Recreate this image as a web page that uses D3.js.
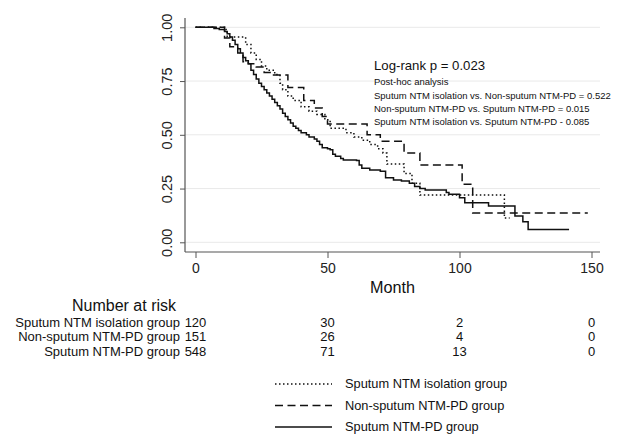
<!DOCTYPE html>
<html>
<head>
<meta charset="utf-8">
<script src="https://cdn.jsdelivr.net/npm/d3@7"></script>
<style>
    body { margin: 0; background: #fff; }
    svg { font-family: "Liberation Sans", Arial, sans-serif; }
</style>
</head>
<body>
<div class="container"></div>
<script>
// DATA
// step curves: time in months, survival after each step
const isoTime = [0, 11, 12, 19, 21, 23, 25, 27, 30, 32, 33, 35, 37, 40, 43, 46, 49, 51, 57, 60, 63, 66, 69, 71, 72.5, 79, 82, 85, 117, 119];
const isoSurv = [1, 0.99, 0.955, 0.92, 0.88, 0.85, 0.82, 0.80, 0.78, 0.74, 0.71, 0.68, 0.66, 0.63, 0.61, 0.595, 0.57, 0.53, 0.51, 0.49, 0.475, 0.455, 0.435, 0.415, 0.364, 0.32, 0.275, 0.22, 0.113, 0.113];

const nonTime = [0, 11, 13, 16, 18, 20, 23, 26, 29, 35, 41, 45, 48, 50, 65, 70, 79, 85, 101, 105, 148.6];
const nonSurv = [1, 0.95, 0.91, 0.88, 0.84, 0.83, 0.815, 0.79, 0.778, 0.72, 0.66, 0.625, 0.585, 0.55, 0.50, 0.47, 0.415, 0.36, 0.27, 0.136, 0.136];

const pdTime = [0, 7, 9, 11, 12, 13, 14, 15, 16, 17, 18, 19, 20, 21, 22, 23, 24, 25, 26, 27, 28, 29, 30, 31, 32, 33, 34, 35, 36, 37, 38, 39, 40, 42, 43, 45, 46, 47, 48, 50, 51, 52, 53, 55, 56, 61, 62, 63, 66, 70, 72, 75, 78, 81, 83, 85, 87, 95, 96, 100, 102, 111, 121, 124, 126, 141.5];
const pdSurv = [1, 0.995, 0.99, 0.98, 0.97, 0.955, 0.94, 0.92, 0.90, 0.88, 0.86, 0.845, 0.83, 0.80, 0.78, 0.76, 0.74, 0.725, 0.71, 0.695, 0.68, 0.665, 0.65, 0.635, 0.62, 0.60, 0.585, 0.57, 0.555, 0.54, 0.53, 0.52, 0.51, 0.50, 0.49, 0.48, 0.47, 0.455, 0.44, 0.435, 0.43, 0.41, 0.40, 0.39, 0.383, 0.38, 0.36, 0.345, 0.336, 0.33, 0.30, 0.29, 0.285, 0.275, 0.26, 0.25, 0.243, 0.232, 0.223, 0.207, 0.184, 0.169, 0.122, 0.096, 0.06, 0.06];

const groupNames = ["Sputum NTM isolation group", "Non-sputum NTM-PD group", "Sputum NTM-PD group"];
const riskTimes = [0, 50, 100, 150];
const riskIso = [120, 30, 2, 0];
const riskNon = [151, 26, 4, 0];
const riskPd = [548, 71, 13, 0];

const xTicks = [0, 50, 100, 150];
const yTicks = [0, 0.25, 0.5, 0.75, 1];

const statLines = [
    "Post-hoc analysis",
    "Sputum NTM isolation vs. Non-sputum NTM-PD = 0.522",
    "Non-sputum NTM-PD vs. Sputum NTM-PD = 0.015",
    "Sputum NTM isolation vs. Sputum NTM-PD - 0.085"
];

// dash styles per group
const dashes = ["1.5,2.5", "8,4.5", null];

const groups = [
    { name: groupNames[0], time: isoTime, surv: isoSurv, risk: riskIso },
    { name: groupNames[1], time: nonTime, surv: nonSurv, risk: riskNon },
    { name: groupNames[2], time: pdTime, surv: pdSurv, risk: riskPd }
];

const svg = d3.select(".container")
    .append("svg")
    .attr("width", 618)
    .attr("height", 435);

// SCALES
const x = d3.scaleLinear().domain([0, 150]).range([195.5, 591.5]);
const y = d3.scaleLinear().domain([0, 1]).range([242.3, 27.3]);

const plotLeft = 185, plotRight = 600, plotTop = 18, plotBottom = 252;

// GRID LINES
svg.append("g")
    .selectAll("line")
    .data(yTicks)
    .enter()
    .append("line")
    .attr("x1", plotLeft)
    .attr("x2", plotRight)
    .attr("y1", d => y(d))
    .attr("y2", d => y(d))
    .attr("stroke", "#e9e9e9")
    .attr("stroke-width", 1);

// AXES
const yAxis = svg.append("g")
    .attr("transform", `translate(${plotLeft},0)`)
    .call(d3.axisLeft(y).tickValues(yTicks).tickSize(5).tickFormat(d3.format(".2f")));

yAxis.select(".domain").remove();
yAxis.selectAll("line").attr("stroke", "#555");
yAxis.selectAll("text")
    .attr("x", 0)
    .attr("dy", 0)
    .attr("transform", "translate(-13,0) rotate(-90)")
    .attr("text-anchor", "middle")
    .attr("fill", "#222")
    .style("font-size", "14.5px")
    .style("font-family", "Liberation Sans, Arial, sans-serif");

const xAxis = svg.append("g")
    .attr("transform", `translate(0,${plotBottom})`)
    .call(d3.axisBottom(x).tickValues(xTicks).tickSize(6));

xAxis.select(".domain").remove();
xAxis.selectAll("line").attr("stroke", "#555");
xAxis.selectAll("text")
    .attr("y", 16)
    .attr("dy", "0.35em")
    .attr("fill", "#222")
    .style("font-size", "14px")
    .style("font-family", "Liberation Sans, Arial, sans-serif");

svg.append("line")
    .attr("x1", plotLeft).attr("x2", plotLeft)
    .attr("y1", plotTop).attr("y2", plotBottom)
    .attr("stroke", "#555").attr("stroke-width", 1.2);

svg.append("line")
    .attr("x1", plotLeft).attr("x2", plotRight)
    .attr("y1", plotBottom).attr("y2", plotBottom)
    .attr("stroke", "#555").attr("stroke-width", 1.2);

svg.append("text")
    .attr("x", 392.5)
    .attr("y", 287)
    .attr("dy", "0.35em")
    .attr("text-anchor", "middle")
    .style("font-size", "16.2px")
    .attr("fill", "#111")
    .text("Month");

// CURVES
const line = d3.line()
    .x((d, i, arr) => x(d[0]))
    .y(d => y(d[1]))
    .curve(d3.curveStepAfter);

groups.forEach((g, gi) => {
    svg.append("path")
        .datum(g.time.map((t, i) => [t, g.surv[i]]))
        .attr("d", line)
        .attr("fill", "none")
        .attr("stroke", "#111")
        .attr("stroke-width", 1.5)
        .attr("stroke-dasharray", dashes[gi]);
});

// ANNOTATION
svg.append("text")
    .attr("x", 374)
    .attr("y", 65)
    .attr("dy", "0.35em")
    .style("font-size", "13.2px")
    .attr("fill", "#111")
    .text("Log-rank p = 0.023");

svg.append("g")
    .selectAll("text")
    .data(statLines)
    .enter()
    .append("text")
    .attr("x", 374)
    .attr("y", (d, i) => 82 + i * 13.3)
    .attr("dy", "0.35em")
    .style("font-size", "9.5px")
    .attr("fill", "#111")
    .text(d => d);

// NUMBER AT RISK
svg.append("text")
    .attr("x", 72)
    .attr("y", 305)
    .attr("dy", "0.35em")
    .style("font-size", "16px")
    .attr("fill", "#111")
    .text("Number at risk");

const riskRowY = [322, 336.5, 351];

groups.forEach((g, gi) => {
    const row = svg.append("g");
    row.append("text")
        .attr("x", 180)
        .attr("y", riskRowY[gi])
        .attr("dy", "0.35em")
        .attr("text-anchor", "end")
        .style("font-size", "13px")
        .attr("fill", "#111")
        .text(g.name);
    row.selectAll("text.count")
        .data(g.risk)
        .enter()
        .append("text")
        .attr("class", "count")
        .attr("x", (d, i) => x(riskTimes[i]))
        .attr("y", riskRowY[gi])
        .attr("dy", "0.35em")
        .attr("text-anchor", "middle")
        .style("font-size", "13px")
        .attr("fill", "#111")
        .text(d => d);
});

// LEGEND
const legendY = [384, 405.5, 427];

groups.forEach((g, gi) => {
    svg.append("line")
        .attr("x1", 275).attr("x2", 332)
        .attr("y1", legendY[gi]).attr("y2", legendY[gi])
        .attr("stroke", "#111")
        .attr("stroke-width", 1.5)
        .attr("stroke-dasharray", dashes[gi]);
    svg.append("text")
        .attr("x", 345)
        .attr("y", legendY[gi])
        .attr("dy", "0.35em")
        .style("font-size", "12.8px")
        .attr("fill", "#111")
        .text(g.name);
});
</script>
</body>
</html>
